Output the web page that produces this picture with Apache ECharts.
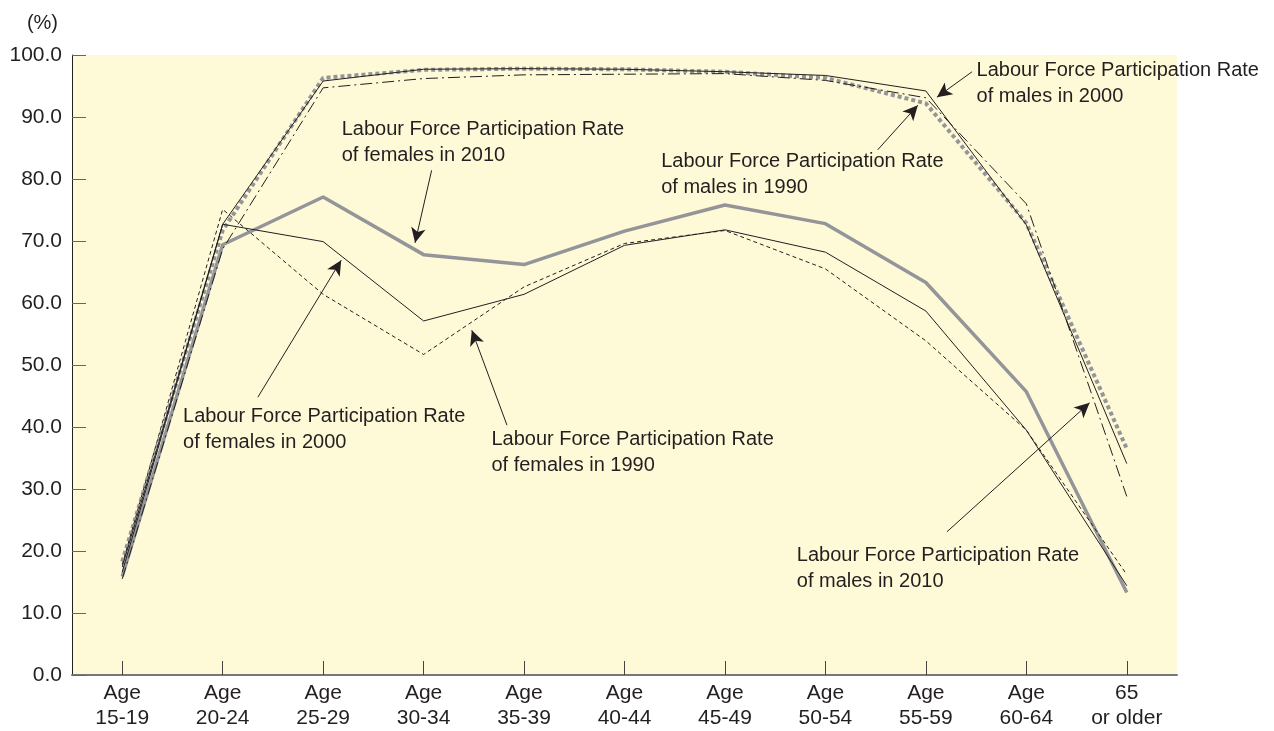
<!DOCTYPE html>
<html>
<head>
<meta charset="utf-8">
<title>Labour Force Participation Rate</title>
<script src="https://cdn.jsdelivr.net/npm/echarts@6/dist/echarts.min.js"></script>
<style>
  html, body { margin: 0; padding: 0; background: #fff; }
  #main { width: 1274px; height: 731px; }
</style>
</head>
<body>
<div id="main"></div>
<script>
// categories (age groups)
const ageGroups = ['Age\n15-19', 'Age\n20-24', 'Age\n25-29', 'Age\n30-34', 'Age\n35-39', 'Age\n40-44',
  'Age\n45-49', 'Age\n50-54', 'Age\n55-59', 'Age\n60-64', '65\nor older'];

// labour force participation rate (%)
const males1990 = [18.3, 71.7, 96.3, 97.6, 97.8, 97.7, 97.3, 96.3, 92.2, 72.9, 36.5];
const males2000 = [17.4, 72.7, 95.8, 97.7, 97.8, 97.7, 97.3, 96.7, 94.2, 72.6, 34.1];
const males2010 = [15.5, 68.7, 94.7, 96.2, 96.8, 96.9, 97.0, 95.9, 93.1, 76.0, 28.8];
const females1990 = [17.8, 75.1, 61.4, 51.7, 62.6, 69.6, 71.7, 65.5, 53.9, 39.5, 16.2];
const females2000 = [16.6, 72.7, 69.9, 57.1, 61.4, 69.3, 71.8, 68.2, 58.7, 39.5, 14.4];
const females2010 = [15.9, 69.4, 77.1, 67.8, 66.2, 71.6, 75.8, 72.8, 63.3, 45.7, 13.3];

const yTicks = [0, 10, 20, 30, 40, 50, 60, 70, 80, 90, 100];

// annotation texts, top-left corner in data coords [category index, value]
const noteTexts = [
  'Labour Force Participation Rate\nof females in 2010',
  'Labour Force Participation Rate\nof males in 1990',
  'Labour Force Participation Rate\nof males in 2000',
  'Labour Force Participation Rate\nof females in 2000',
  'Labour Force Participation Rate\nof females in 1990',
  'Labour Force Participation Rate\nof males in 2010'
];
const notePos = [[2.19, 90.0], [5.37, 84.8], [8.51, 99.5], [0.61, 43.7], [3.68, 40.0], [6.72, 21.3]];
// arrows: start -> tip
const arrowFrom = [[3.08, 81.4], [7.52, 84.7], [8.46, 97.3], [1.35, 44.8], [3.83, 40.3], [8.21, 23.1]];
const arrowTo = [[2.915, 69.7], [7.92, 91.9], [8.11, 93.2], [2.18, 66.9], [3.48, 55.6], [9.63, 43.9]];

const font = '"Liberation Sans", Arial, Helvetica, sans-serif';
const ink = '#231f20';

const chart = echarts.init(document.getElementById('main'), null, { renderer: 'canvas' });

function lineSeries(name, data, style) {
  return {
    name: name,
    type: 'line',
    data: data,
    symbol: 'none',
    smooth: false,
    animation: false,
    silent: true,
    lineStyle: style
  };
}

const option = {
  animation: false,
  textStyle: { fontFamily: font },
  grid: {
    left: 72,
    right: 97,
    top: 55,
    bottom: 56,
    show: true,
    backgroundColor: '#fef9d6',
    borderWidth: 0
  },
  xAxis: [{
    type: 'category',
    data: ageGroups,
    boundaryGap: true,
    axisLine: { onZero: false, lineStyle: { color: '#77777a', width: 2 } },
    axisTick: { show: true, inside: true, alignWithLabel: true, length: 14, lineStyle: { color: '#444', width: 1 } },
    axisLabel: { color: ink, fontSize: 21, lineHeight: 25, margin: 6, fontFamily: font, interval: 0 },
    splitLine: { show: false }
  }, {
    // hidden value axis, only used to place the annotations
    type: 'value',
    min: -0.5,
    max: 10.5,
    show: false
  }],
  yAxis: {
    type: 'value',
    min: yTicks[0],
    max: yTicks[yTicks.length - 1],
    interval: 10,
    name: '(%)',
    nameLocation: 'end',
    nameGap: 22,
    nameTextStyle: { color: ink, fontSize: 20, align: 'right', padding: [0, 14, 0, 0], fontFamily: font },
    axisLine: { show: true, onZero: false, lineStyle: { color: '#222', width: 1 } },
    axisTick: { show: true, inside: true, length: 14, lineStyle: { color: '#666', width: 1 } },
    axisLabel: {
      color: ink,
      fontSize: 21,
      margin: 10,
      fontFamily: font,
      formatter: v => v.toFixed(1)
    },
    splitLine: { show: false }
  },
  series: [
    lineSeries('Males 1990', males1990, { color: '#939598', width: 4, type: [4, 3] }),
    lineSeries('Females 2010', females2010, { color: '#939598', width: 3.5, type: 'solid' }),
    lineSeries('Males 2010', males2010, { color: ink, width: 1, type: [12, 4, 2, 4] }),
    lineSeries('Females 1990', females1990, { color: ink, width: 1, type: [4, 3] }),
    lineSeries('Females 2000', females2000, { color: ink, width: 1, type: 'solid' }),
    lineSeries('Males 2000', males2000, { color: ink, width: 1, type: 'solid' }),
    {
      // annotations: arrows + texts
      name: 'notes',
      type: 'line',
      xAxisIndex: 1,
      data: [],
      silent: true,
      animation: false,
      markLine: {
        silent: true,
        animation: false,
        symbol: ['none', 'arrow'],
        symbolSize: [11, 15],
        label: { show: false },
        lineStyle: { color: ink, width: 1, type: 'solid' },
        data: arrowFrom.map((p, i) => [{ coord: p }, { coord: arrowTo[i] }])
      },
      markPoint: {
        silent: true,
        animation: false,
        symbol: 'circle',
        symbolSize: 1,
        itemStyle: { color: 'rgba(0,0,0,0)' },
        label: {
          show: true,
          position: [0, 0],
          align: 'left',
          verticalAlign: 'top',
          color: ink,
          fontSize: 20,
          lineHeight: 26,
          fontFamily: font
        },
        data: notePos.map((p, i) => ({
          coord: p,
          label: { formatter: noteTexts[i] }
        }))
      }
    }
  ]
};

chart.setOption(option);
</script>
</body>
</html>
